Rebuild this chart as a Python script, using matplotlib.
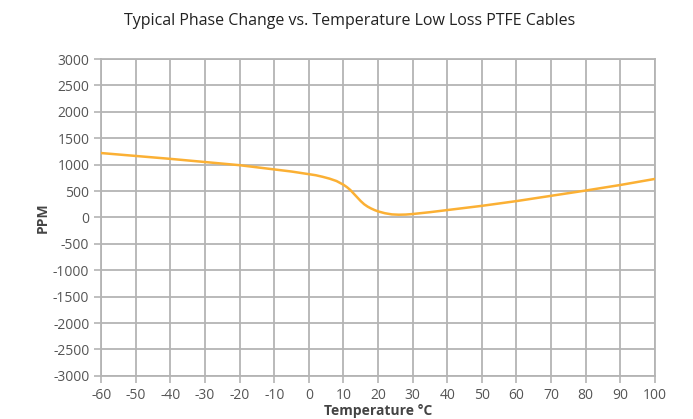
import numpy as np
import matplotlib.pyplot as plt

temp = [-60, -50, -40, -30, -20, -10, -5, 0, 2, 4, 6, 8, 10, 11, 12, 13, 14, 15, 16, 17, 18,
        19, 20, 22, 24, 26, 28, 30, 35, 40, 50, 60, 70, 80, 90, 100]
ppm = [1220, 1165, 1110, 1050, 990, 910, 870, 820, 800, 770, 735, 690, 620, 575, 520, 450,
       380, 310, 250, 205, 170, 140, 115, 80, 58, 52, 55, 65, 100, 140, 220, 310, 410, 510,
       615, 730]

plt.rcParams['font.family'] = ['Open Sans', 'DejaVu Sans']
plt.rcParams['axes.unicode_minus'] = False

fig = plt.figure(figsize=(6.93, 4.19), dpi=100)
ax = fig.add_axes([0.146, 0.103, 0.799, 0.756])

grid_c = '#b4b4b4'
ax.plot(temp, ppm, color='#fbb034', lw=1.8, zorder=3)

ax.set_xlim(-60, 100)
ax.set_ylim(-3000, 3000)
ax.set_xticks(np.arange(-60, 101, 10))
ax.set_yticks(np.arange(-3000, 3001, 500))
ax.grid(True, color=grid_c, lw=1.3)
for s in ax.spines.values():
    s.set_color(grid_c)
    s.set_linewidth(1.3)
ax.tick_params(colors=grid_c, length=5, width=1.2, labelcolor='#555555', labelsize=10)

ax.set_xlabel('Temperature °C', fontsize=10, fontweight='bold', color='#444444', labelpad=1)
ax.set_ylabel('PPM', fontsize=10, fontweight='bold', color='#444444', labelpad=2)
fig.suptitle('Typical Phase Change vs. Temperature Low Loss PTFE Cables',
             x=0.505, y=0.97, fontsize=11.5, color='#222222')

fig.savefig('out.png', dpi=100)
